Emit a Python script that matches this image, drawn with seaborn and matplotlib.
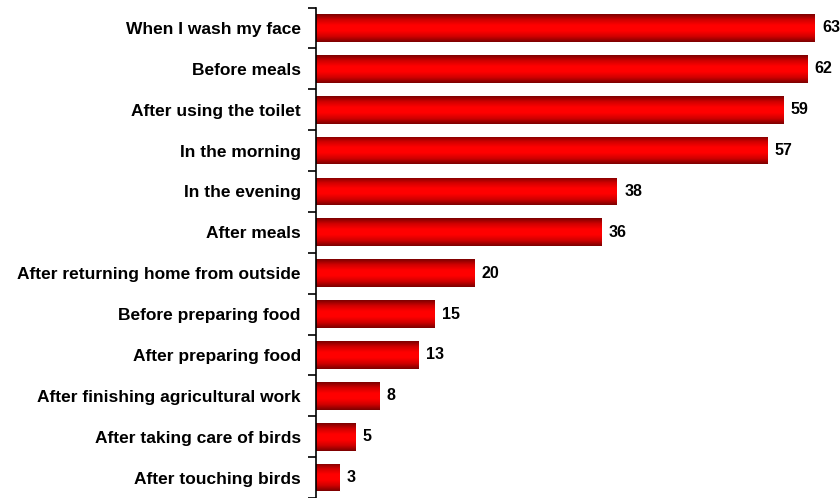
import numpy as np
import pandas as pd
import matplotlib
matplotlib.use("Agg")
import matplotlib.pyplot as plt
import seaborn as sns
from matplotlib.colors import LinearSegmentedColormap

categories = [
    "When I wash my face",
    "Before meals",
    "After using the toilet",
    "In the morning",
    "In the evening",
    "After meals",
    "After returning home from outside",
    "Before preparing food",
    "After preparing food",
    "After finishing agricultural work",
    "After taking care of birds",
    "After touching birds",
]
values = [63, 62, 59, 57, 38, 36, 20, 15, 13, 8, 5, 3]

df = pd.DataFrame({"occasion": categories, "percent": values})

sns.set_theme(style="white")
plt.rcParams["font.family"] = ["Liberation Sans", "DejaVu Sans"]

fig = plt.figure(figsize=(8.4, 4.98), dpi=100)
ax = fig.add_axes([316 / 840, 0.0, 1 - 316 / 840, 1 - 7.5 / 498])

sns.barplot(data=df, x="percent", y="occasion", orient="h", color="#ff0000",
            width=0.68, ax=ax, saturation=1)

xmax = (840 - 316) / 7.92
ax.set_xlim(0, xmax)
ax.set_ylim(len(categories) - 0.5, -0.5)

# red cylinder shading: dark edges, bright centre
cmap = LinearSegmentedColormap.from_list(
    "cyl", ["#7a0000", "#d00000", "#ff0000", "#ff0000", "#d00000", "#7a0000"])
grad = np.linspace(0, 1, 256).reshape(-1, 1)
for patch in ax.patches:
    x0, y0 = patch.get_x(), patch.get_y()
    w, h = patch.get_width(), patch.get_height()
    im = ax.imshow(grad, cmap=cmap, aspect="auto",
                   extent=(x0, x0 + w, y0 + h, y0), zorder=patch.get_zorder() + 0.1,
                   interpolation="bilinear")
    im.set_clip_path(patch)
ax.set_xlim(0, xmax)
ax.set_ylim(len(categories) - 0.5, -0.5)

for i, v in enumerate(values):
    ax.text(v + 0.9, i, f"{v}", va="center", ha="left",
            fontsize=11.5, fontweight="bold", color="black")

ax.set_xlabel("")
ax.set_ylabel("")
ax.set_xticks([])
ax.set_yticks(range(len(categories)))
ax.set_yticklabels(categories, fontsize=12.5, fontweight="bold", color="black")
ax.tick_params(axis="y", which="major", length=0, pad=11)
ax.set_yticks(np.arange(-0.5, len(categories), 1), minor=True)
ax.tick_params(axis="y", which="minor", length=6, width=1.2, color="black",
               direction="out", left=True)

for side in ["top", "right", "bottom"]:
    ax.spines[side].set_visible(False)
ax.spines["left"].set_color("black")
ax.spines["left"].set_linewidth(1.2)

fig.savefig("out.png", dpi=100)
